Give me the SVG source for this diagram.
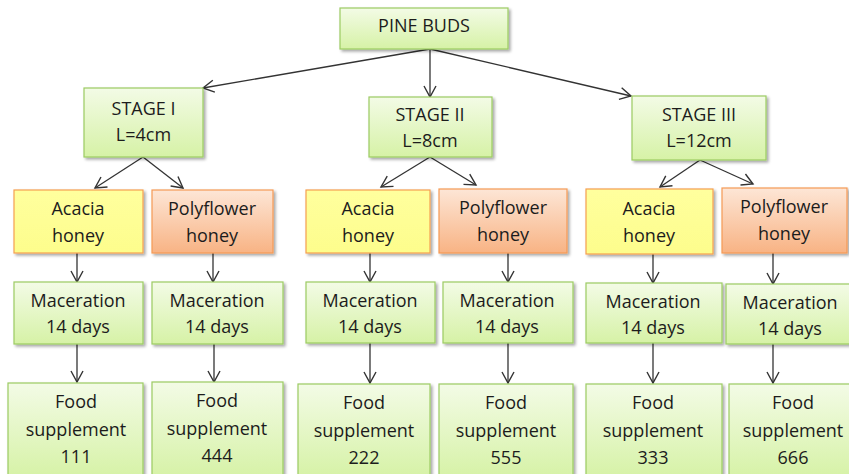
<svg xmlns="http://www.w3.org/2000/svg" width="849" height="474" viewBox="0 0 849 474">
<defs>
<linearGradient id="gGreen" x1="0" y1="0" x2="0" y2="1">
<stop offset="0" stop-color="#f3fbe6"/>
<stop offset="1" stop-color="#d6f2a6"/>
</linearGradient>
<linearGradient id="gOrange" x1="0" y1="0" x2="0" y2="1">
<stop offset="0" stop-color="#fde6d6"/>
<stop offset="1" stop-color="#f8b384"/>
</linearGradient>
<linearGradient id="gYellow" x1="0" y1="0" x2="0" y2="1">
<stop offset="0" stop-color="#ffff9e"/>
<stop offset="1" stop-color="#fdfd8c"/>
</linearGradient>
<filter id="sh" x="-10%" y="-10%" width="125%" height="130%">
<feGaussianBlur in="SourceAlpha" stdDeviation="1.5"/>
<feOffset dx="1.5" dy="2" result="b"/>
<feComponentTransfer><feFuncA type="linear" slope="0.35"/></feComponentTransfer>
<feMerge><feMergeNode/><feMergeNode in="SourceGraphic"/></feMerge>
</filter>
<marker id="ah" markerWidth="14" markerHeight="14" refX="12" refY="7" orient="auto" markerUnits="userSpaceOnUse">
<path d="M1,1 L12,7 L1,13" fill="none" stroke="#333" stroke-width="1.4"/>
</marker>
</defs>
<style>
.g{fill:url(#gGreen);stroke:#9ccb62;stroke-width:1.2;filter:url(#sh)}
.o{fill:url(#gOrange);stroke:#f59a55;stroke-width:1.2;filter:url(#sh)}
.y{fill:url(#gYellow);stroke:#f5a050;stroke-width:1.2;filter:url(#sh)}
text{font-family:"Open Sans","Liberation Sans",sans-serif;font-size:18px;fill:#1c1c1c;text-anchor:middle}
.c line{stroke:#333;stroke-width:1.3;marker-end:url(#ah)}
</style>
<rect width="849" height="474" fill="#ffffff"/>
<g class="c" id="connectors">
<line x1="430" y1="49" x2="203" y2="88"/>
<line x1="430" y1="49" x2="430" y2="97"/>
<line x1="430" y1="49" x2="631" y2="96"/>
<line x1="143" y1="157" x2="95" y2="188"/>
<line x1="143" y1="157" x2="183" y2="188"/>
<line x1="430" y1="157" x2="381" y2="187"/>
<line x1="430" y1="157" x2="476" y2="185"/>
<line x1="700" y1="160" x2="660" y2="187"/>
<line x1="700" y1="160" x2="753" y2="184"/>
<line x1="77" y1="253" x2="77" y2="282"/>
<line x1="213" y1="253" x2="213" y2="282"/>
<line x1="370" y1="253" x2="370" y2="282"/>
<line x1="508" y1="253" x2="508" y2="282"/>
<line x1="653" y1="254" x2="653" y2="283"/>
<line x1="773" y1="253" x2="773" y2="284"/>
<line x1="77" y1="344" x2="77" y2="382"/>
<line x1="214" y1="344" x2="214" y2="382"/>
<line x1="370" y1="343" x2="370" y2="383"/>
<line x1="508" y1="343" x2="508" y2="383"/>
<line x1="653" y1="343" x2="653" y2="383"/>
<line x1="773" y1="344" x2="773" y2="383"/>
</g>
<g id="pine"><rect class="g" x="340" y="8" width="168" height="41"/><text x="424" y="32">PINE BUDS</text></g>
<g id="stage1"><rect class="g" x="84" y="88" width="119" height="69"/><text x="143.5" y="115">STAGE I</text><text x="143.5" y="141">L=4cm</text></g>
<g id="stage2"><rect class="g" x="369" y="97" width="123" height="60"/><text x="430" y="121">STAGE II</text><text x="430" y="147">L=8cm</text></g>
<g id="stage3"><rect class="g" x="632" y="96" width="134" height="64"/><text x="699" y="121">STAGE III</text><text x="699" y="147">L=12cm</text></g>
<g id="acacia1"><rect class="y" x="14" y="190" width="129" height="63"/><text x="78" y="215">Acacia</text><text x="78" y="242">honey</text></g>
<g id="poly1"><rect class="o" x="152" y="190" width="121" height="63"/><text x="212" y="215">Polyflower</text><text x="212" y="242">honey</text></g>
<g id="acacia2"><rect class="y" x="306" y="190" width="124" height="63"/><text x="368" y="215">Acacia</text><text x="368" y="242">honey</text></g>
<g id="poly2"><rect class="o" x="439" y="189" width="128" height="64"/><text x="503" y="214">Polyflower</text><text x="503" y="241">honey</text></g>
<g id="acacia3"><rect class="y" x="586" y="189" width="127" height="65"/><text x="649" y="215">Acacia</text><text x="649" y="242">honey</text></g>
<g id="poly3"><rect class="o" x="722" y="188" width="125" height="65"/><text x="784" y="213">Polyflower</text><text x="784" y="240">honey</text></g>
<g id="mac1"><rect class="g" x="14" y="282" width="129" height="62"/><text x="78" y="307">Maceration</text><text x="78" y="333">14 days</text></g>
<g id="mac2"><rect class="g" x="152" y="282" width="131" height="62"/><text x="217" y="307">Maceration</text><text x="217" y="333">14 days</text></g>
<g id="mac3"><rect class="g" x="306" y="282" width="129" height="61"/><text x="370" y="307">Maceration</text><text x="370" y="333">14 days</text></g>
<g id="mac4"><rect class="g" x="443" y="282" width="130" height="61"/><text x="507" y="307">Maceration</text><text x="507" y="333">14 days</text></g>
<g id="mac5"><rect class="g" x="586" y="283" width="136" height="60"/><text x="653" y="308">Maceration</text><text x="653" y="334">14 days</text></g>
<g id="mac6"><rect class="g" x="726" y="284" width="130" height="60"/><text x="790" y="309">Maceration</text><text x="790" y="335">14 days</text></g>
<g id="food1"><rect class="g" x="8" y="383" width="135" height="95"/><text x="76" y="408">Food</text><text x="76" y="436">supplement</text><text x="76" y="463">111</text></g>
<g id="food2"><rect class="g" x="152" y="382" width="131" height="96"/><text x="217" y="407">Food</text><text x="217" y="435">supplement</text><text x="217" y="462">444</text></g>
<g id="food3"><rect class="g" x="298" y="384" width="132" height="94"/><text x="364" y="409">Food</text><text x="364" y="437">supplement</text><text x="364" y="464">222</text></g>
<g id="food4"><rect class="g" x="439" y="384" width="134" height="94"/><text x="506" y="409">Food</text><text x="506" y="437">supplement</text><text x="506" y="464">555</text></g>
<g id="food5"><rect class="g" x="586" y="384" width="136" height="94"/><text x="653" y="409">Food</text><text x="653" y="437">supplement</text><text x="653" y="464">333</text></g>
<g id="food6"><rect class="g" x="729" y="384" width="130" height="94"/><text x="793" y="409">Food</text><text x="793" y="437">supplement</text><text x="793" y="464">666</text></g>
</svg>
